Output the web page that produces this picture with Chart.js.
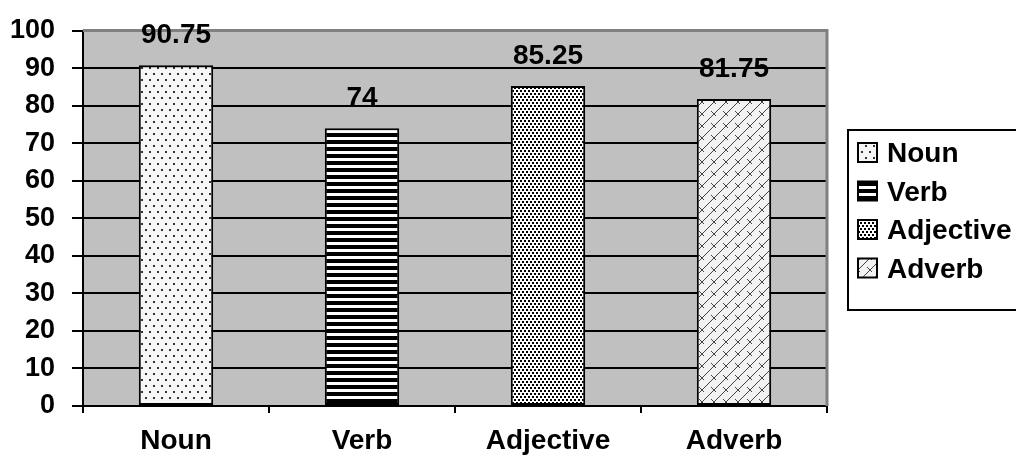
<!DOCTYPE html>
<html>
<head>
<meta charset="utf-8">
<script src="https://cdn.jsdelivr.net/npm/chart.js@4"></script>
<style>
  html, body { margin: 0; padding: 0; background: #fff; }
  #wrap { width: 1016px; height: 465px; }
</style>
</head>
<body>
<div id="wrap"><canvas id="posChart" width="1016" height="465"></canvas></div>
<script>
// Chart data
var categories = ['Noun', 'Verb', 'Adjective', 'Adverb'];
var scores = [90.75, 74, 85.25, 81.75];
var scoreLabels = ['90.75', '74', '85.25', '81.75'];
var yTicks = [0, 10, 20, 30, 40, 50, 60, 70, 80, 90, 100];

var FONT = '"Liberation Sans", Arial, sans-serif';

// Build a small tile and turn it into a fill pattern
function makePattern(w, h, drawTile) {
    var c = document.createElement('canvas');
    c.width = w; c.height = h;
    var g = c.getContext('2d');
    drawTile(g, w, h);
    return document.getElementById('posChart').getContext('2d').createPattern(c, 'repeat');
}

var patterns = [
    // sparse dots
    makePattern(8, 12, function (g, w, h) {
        g.fillStyle = '#f7f7f7'; g.fillRect(0, 0, w, h);
        g.fillStyle = '#333';
        g.fillRect(1, 1, 2, 2);
        g.fillRect(5, 7, 2, 2);
    }),
    // horizontal stripes
    makePattern(4, 7, function (g, w, h) {
        g.fillStyle = '#fff'; g.fillRect(0, 0, w, h);
        g.fillStyle = '#000'; g.fillRect(0, 0, w, 4);
    }),
    // dense dots
    makePattern(4, 6, function (g, w, h) {
        g.fillStyle = '#fff'; g.fillRect(0, 0, w, h);
        g.fillStyle = '#000';
        g.fillRect(0, 0, 2, 2);
        g.fillRect(2, 3, 2, 2);
    }),
    // diagonal weave
    makePattern(12, 12, function (g, w, h) {
        g.fillStyle = '#f2f2f2'; g.fillRect(0, 0, w, h);
        g.strokeStyle = '#444'; g.lineWidth = 1;
        g.beginPath();
        g.moveTo(0, 12); g.lineTo(12, 0);
        g.moveTo(-6, 6); g.lineTo(6, -6);
        g.moveTo(6, 18); g.lineTo(18, 6);
        g.moveTo(3, 3); g.lineTo(8, 8);
        g.stroke();
    })
];

// Gray plot background with gray top/right border
var plotBackground = {
    id: 'plotBackground',
    beforeDraw: function (chart) {
        var a = chart.chartArea, ctx = chart.ctx;
        ctx.save();
        ctx.fillStyle = '#c0c0c0';
        ctx.fillRect(a.left, a.top, a.right - a.left, a.bottom - a.top);
        ctx.restore();
    },
    beforeDatasetsDraw: function (chart) {
        var a = chart.chartArea, ctx = chart.ctx;
        ctx.save();
        ctx.strokeStyle = '#808080'; ctx.lineWidth = 3;
        ctx.beginPath();
        ctx.moveTo(a.left, a.top); ctx.lineTo(a.right, a.top); ctx.lineTo(a.right, a.bottom);
        ctx.stroke();
        ctx.restore();
    }
};

// Values above each bar
var barValues = {
    id: 'barValues',
    afterDatasetsDraw: function (chart) {
        var ctx = chart.ctx;
        var meta = chart.getDatasetMeta(0);
        ctx.save();
        ctx.font = 'bold 28px ' + FONT;
        ctx.fillStyle = '#000';
        ctx.textAlign = 'center';
        ctx.textBaseline = 'alphabetic';
        meta.data.forEach(function (bar, i) {
            ctx.fillText(scoreLabels[i], bar.x, bar.y - 22);
        });
        ctx.restore();
    }
};

// Boxed legend on the right
var boxLegend = {
    id: 'boxLegend',
    afterDraw: function (chart) {
        var ctx = chart.ctx;
        var x0 = 848, y0 = 130, w = 175, h = 180;
        ctx.save();
        ctx.fillStyle = '#fff';
        ctx.fillRect(x0, y0, w, h);
        ctx.strokeStyle = '#000'; ctx.lineWidth = 2;
        ctx.strokeRect(x0, y0, w, h);
        ctx.font = 'bold 28px ' + FONT;
        ctx.textBaseline = 'alphabetic';
        categories.forEach(function (name, i) {
            var base = 162 + i * 38.5;
            var sy = base - 19;
            ctx.fillStyle = patterns[i];
            ctx.fillRect(858, sy, 19, 19);
            ctx.lineWidth = 2; ctx.strokeStyle = '#000';
            ctx.strokeRect(858, sy, 19, 19);
            ctx.fillStyle = '#000';
            ctx.fillText(name, 887, base);
        });
        ctx.restore();
    }
};

new Chart(document.getElementById('posChart'), {
    type: 'bar',
    data: {
        labels: categories,
        datasets: [{
            data: scores,
            backgroundColor: patterns,
            borderColor: '#000',
            borderWidth: 2,
            borderSkipped: false,
            barPercentage: 0.8,
            categoryPercentage: 0.5
        }]
    },
    options: {
        responsive: false,
        animation: false,
        layout: { padding: { top: 30, right: 189, left: 0, bottom: 0 } },
        plugins: { legend: { display: false }, tooltip: { enabled: false } },
        scales: {
            x: {
                grid: { drawOnChartArea: false, offset: true, color: '#000', lineWidth: 2, tickLength: 7 },
                border: { color: '#000', width: 2 },
                ticks: { color: '#000', padding: 11, font: { family: FONT, size: 28, weight: 'bold' } },
                afterFit: function (s) { s.height = 59; }
            },
            y: {
                min: 0, max: 100,
                afterBuildTicks: function (s) { s.ticks = yTicks.map(function (v) { return { value: v }; }); },
                grid: { color: '#000', lineWidth: 2, tickLength: 11 },
                border: { color: '#000', width: 2 },
                ticks: { color: '#000', padding: 17, font: { family: FONT, size: 27, weight: 'bold', lineHeight: 1 } },
                afterFit: function (s) { s.width = 83; }
            }
        }
    },
    plugins: [plotBackground, barValues, boxLegend]
});
</script>
</body>
</html>
